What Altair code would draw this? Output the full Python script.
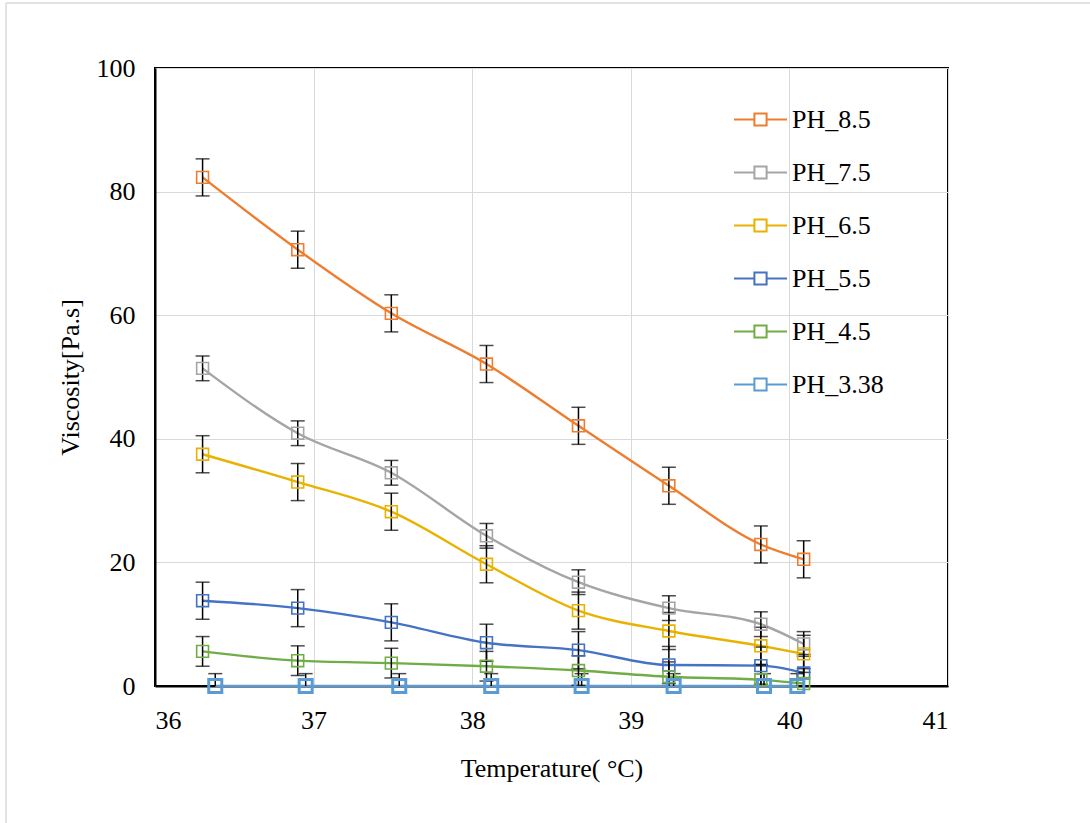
import altair as alt
import pandas as pd

series_names = ["PH_8.5", "PH_7.5", "PH_6.5", "PH_5.5", "PH_4.5", "PH_3.38"]
series_colors = ["#ED7D31", "#A5A5A5", "#E9B200", "#4472C4", "#70AD47", "#5B9BD5"]

temps_main = [36.30, 36.90, 37.49, 38.09, 38.67, 39.24, 39.82, 40.09]
temps_338 = [36.38, 36.95, 37.54, 38.12, 38.69, 39.27, 39.84, 40.05]

ph_85 = [82.3, 70.6, 60.3, 52.1, 42.1, 32.4, 22.9, 20.5]
ph_75 = [51.4, 40.9, 34.5, 24.3, 16.8, 12.6, 10.0, 6.8]
ph_65 = [37.5, 33.0, 28.2, 19.7, 12.2, 8.9, 6.5, 5.2]
ph_55 = [13.8, 12.6, 10.3, 7.0, 5.8, 3.4, 3.3, 2.1]
ph_45 = [5.6, 4.1, 3.7, 3.2, 2.5, 1.5, 1.0, 0.4]
ph_338 = [0, 0, 0, 0, 0, 0, 0, 0]

err_85 = [3.0] * 8
err_75 = [2.0] * 8
err_65 = [3.0] * 8
err_55 = [3.0] * 8
err_45 = [2.4] * 8
err_338 = [2.0] * 8

x_ticks = [36, 37, 38, 39, 40, 41]
y_ticks = [0, 20, 40, 60, 80, 100]

rows = []
for name, temps, vals, errs in [
    ("PH_8.5", temps_main, ph_85, err_85),
    ("PH_7.5", temps_main, ph_75, err_75),
    ("PH_6.5", temps_main, ph_65, err_65),
    ("PH_5.5", temps_main, ph_55, err_55),
    ("PH_4.5", temps_main, ph_45, err_45),
    ("PH_3.38", temps_338, ph_338, err_338),
]:
    for t, v, e in zip(temps, vals, errs):
        rows.append({"series": name, "temp": t, "visc": v, "lo": v - e, "hi": v + e})
df = pd.DataFrame(rows)

FONT = "Liberation Serif"
FS = 26

xscale = alt.Scale(domain=[36, 41], nice=False, zero=False)
yscale = alt.Scale(domain=[0, 100], nice=False)
color_scale = alt.Scale(domain=series_names, range=series_colors)

legend_path = "M-1,0H-0.23M0.23,0H1M-0.23,-0.23H0.23V0.23H-0.23Z"

base = alt.Chart(df)

x_enc = alt.X(
    "temp:Q", scale=xscale,
    axis=alt.Axis(values=x_ticks, title="Temperature( °C)", format="d",
                  labelPadding=21, titleY=82, titleBaseline="middle"),
)
y_enc = alt.Y(
    "visc:Q", scale=yscale,
    axis=alt.Axis(values=y_ticks, title="Viscosity[Pa.s]", format="d",
                  labelPadding=20, titleX=-85, titleBaseline="middle"),
)

lines = base.mark_line(interpolate="monotone", strokeWidth=2.4).encode(
    x=x_enc,
    y=y_enc,
    color=alt.Color(
        "series:N", scale=color_scale, sort=series_names,
        legend=alt.Legend(
            title=None, orient="none", legendX=578, legendY=24,
            symbolType=legend_path, symbolSize=2809, symbolStrokeWidth=2,
            symbolFillColor="transparent",
            labelFont=FONT, labelFontSize=FS, labelColor="black",
            labelOffset=4, rowPadding=12, padding=0,
        ),
    ),
    detail="series:N",
)

err_rules = base.mark_rule(color="black", strokeWidth=1.5, clip=True).encode(
    x="temp:Q", y="lo:Q", y2="hi:Q",
)
err_lo = base.mark_tick(color="black", thickness=1.5, size=14, orient="horizontal", clip=True).encode(
    x="temp:Q", y="lo:Q",
)
err_hi = base.mark_tick(color="black", thickness=1.5, size=14, orient="horizontal", clip=True).encode(
    x="temp:Q", y="hi:Q",
)

is_338 = alt.datum.series == "PH_3.38"
points = base.mark_point(shape="square", filled=False, opacity=1).encode(
    x="temp:Q",
    y="visc:Q",
    color=alt.Color("series:N", scale=color_scale, legend=None),
    size=alt.condition(is_338, alt.value(170), alt.value(140)),
    strokeWidth=alt.condition(is_338, alt.value(3), alt.value(1.6)),
)

border_top = alt.Chart(pd.DataFrame({"a": [0]})).mark_rule(color="#d9d9d9", strokeWidth=1.5).encode(
    x=alt.value(-149), x2=alt.value(935), y=alt.value(-65)
)
border_left = alt.Chart(pd.DataFrame({"a": [0]})).mark_rule(color="#d9d9d9", strokeWidth=1.5).encode(
    x=alt.value(-149), y=alt.value(-65), y2=alt.value(760)
)

chart = alt.layer(border_top, border_left, lines, err_rules, err_lo, err_hi, points).properties(
    width=793, height=618,
    autosize=alt.AutoSizeParams(type="none"),
    padding={"left": 155, "top": 68, "right": 142, "bottom": 137},
    background="white",
).configure_view(stroke="black", strokeWidth=2).configure_axis(
    grid=True, gridColor="#d9d9d9", gridWidth=1,
    ticks=False, domainColor="black", domainWidth=2,
    labelFont=FONT, labelFontSize=FS, labelColor="black",
    titleFont=FONT, titleFontSize=FS, titleFontWeight="normal", titleColor="black",
).resolve_scale(color="shared")

chart.save("out.html", embed_options={"renderer": "svg", "actions": False})
